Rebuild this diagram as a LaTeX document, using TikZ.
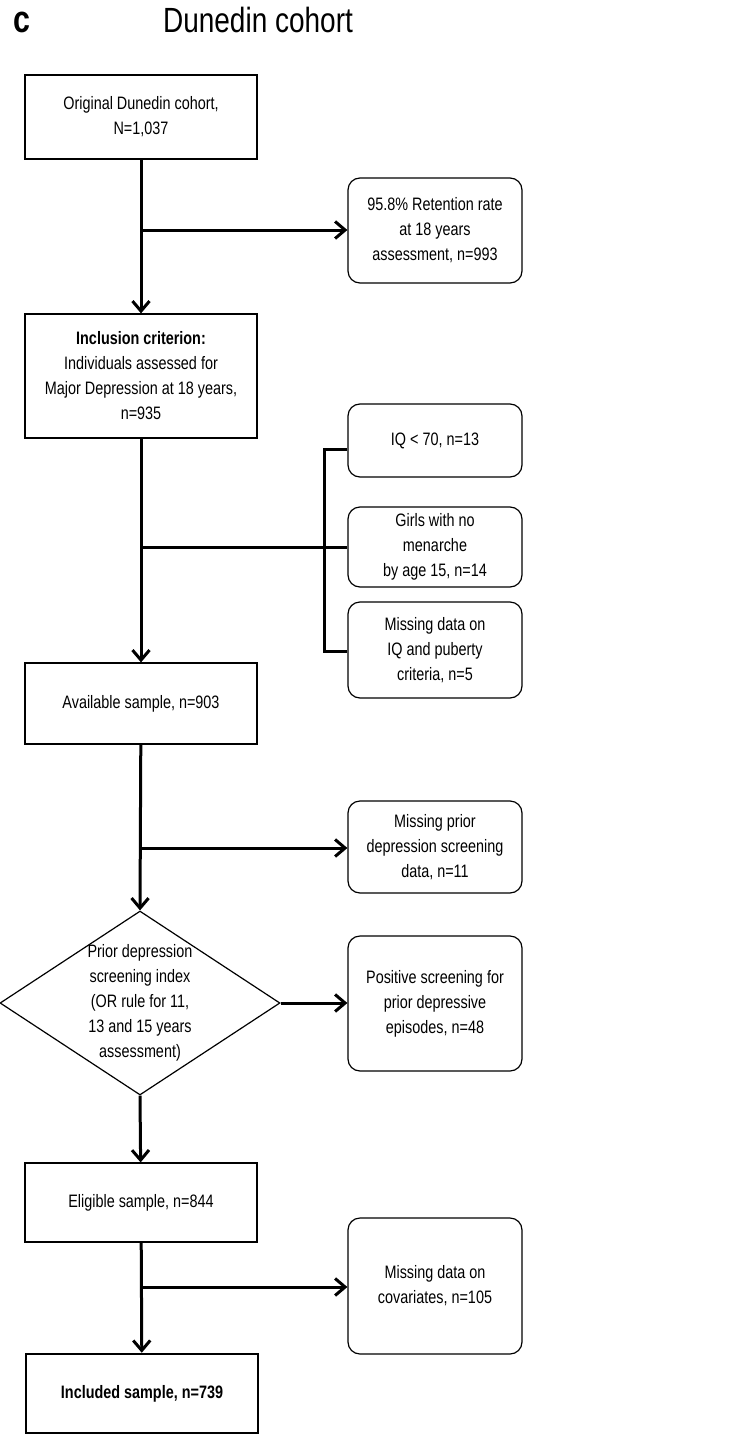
\documentclass[tikz,border=0pt]{standalone}
\usepackage{fontspec}
\setmainfont{Liberation Sans}[FakeStretch=0.8]
\usepackage{tikz}
\usetikzlibrary{shapes.geometric}
\usetikzlibrary{arrows.meta}

\tikzset{
  mainbox/.style={draw, line width=1.2pt, rectangle, minimum width=232pt,
    inner sep=0pt, align=center, font=\fontsize{18}{25}\selectfont},
  sidebox/.style={draw, line width=1.2pt, rectangle, rounded corners=12pt,
    minimum width=174pt, inner sep=0pt, align=center,
    font=\fontsize{18}{25}\selectfont},
  flow/.style={line width=3pt},
  flowarrow/.style={line width=3pt, -{Straight Barb[length=10pt,width=17pt]}}
}

\begin{document}
\begin{tikzpicture}[x=1pt,y=-1pt]
      \useasboundingbox (0,0) rectangle (734,1434);
      % heading
      \node[font=\fontsize{38}{38}\selectfont\bfseries] (panel) at (22,22) {c};
      \node[font=\fontsize{35}{35}\selectfont] (title) at (258,20) {Dunedin cohort};
      % main column
      \node[mainbox, minimum height=84pt] (orig) at (141,117)
        {Original Dunedin cohort,\\N=1,037};
      \node[mainbox, minimum height=124pt] (incl) at (141,376)
        {\textbf{Inclusion criterion:}\\Individuals assessed for\\Major Depression at 18 years,\\n=935};
      \node[mainbox, minimum height=81pt] (avail) at (141,703.5)
        {Available sample, n=903};
      \node[draw, line width=1.2pt, diamond, inner sep=0pt, aspect=1.52,
        minimum width=280pt, minimum height=184pt] (screen) at (140,1003) {};
      \node[align=center, font=\fontsize{18}{25}\selectfont] (screentext) at (140,1003)
        {Prior depression\\screening index\\(OR rule for 11,\\13 and 15 years\\assessment)};
      \node[mainbox, minimum height=79pt] (elig) at (141,1202.5)
        {Eligible sample, n=844};
      \node[mainbox, line width=2.5pt, minimum height=79pt] (final) at (142,1393.5)
        {\textbf{Included sample, n=739}};
      % exclusions
      \node[sidebox, minimum height=105pt] (retain) at (435,230.5)
        {95.8\% Retention rate\\at 18 years\\assessment, n=993};
      \node[sidebox, minimum height=73pt] (iq) at (435,440.5)
        {IQ < 70, n=13};
      \node[sidebox, minimum height=80pt] (girls) at (435,547)
        {Girls with no\\menarche\\by age 15, n=14};
      \node[sidebox, minimum height=96pt] (puberty) at (435,650)
        {Missing data on\\IQ and puberty\\criteria, n=5};
      \node[sidebox, minimum height=92pt] (prior) at (435,847)
        {Missing prior\\depression screening\\data, n=11};
      \node[sidebox, minimum height=135pt] (positive) at (435,1003.5)
        {Positive screening for\\prior depressive\\episodes, n=48};
      \node[sidebox, minimum height=136pt] (covar) at (435,1286)
        {Missing data on\\covariates, n=105};
      % connectors
      \coordinate (b1) at (140,230);
      \coordinate (b2) at (140,547);
      \coordinate (b3) at (140,848);
      \coordinate (b4) at (140,1287);
      \coordinate (k1) at (324,449);
      \coordinate (k2) at (324,651);
      \draw[flowarrow] (orig) -- (incl);
      \draw[flowarrow] (b1) -- (retain.west |- b1);
      \draw[flowarrow] (incl) -- (avail);
      \draw[flow] (b2) -- (girls.west);
      \draw[flow] (iq.west |- k1) -- (k1) -- (k2) -- (puberty.west |- k2);
      \draw[flowarrow] (avail) -- (screen.north);
      \draw[flowarrow] (b3) -- (prior.west |- b3);
      \draw[flowarrow] (screen.east) -- (positive.west |- screen.east);
      \draw[flowarrow] (screen.south) -- (elig);
      \draw[flowarrow] (elig) -- (final);
      \draw[flowarrow] (b4) -- (covar.west |- b4);
\end{tikzpicture}
\end{document}
